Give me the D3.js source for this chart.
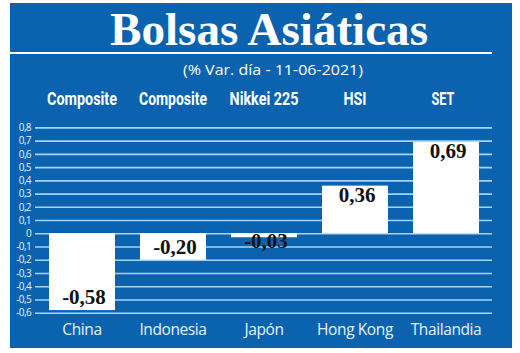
<!DOCTYPE html>
<html>
<head>
<meta charset="utf-8">
<script src="https://cdn.jsdelivr.net/npm/d3@7"></script>
<style>
  body { margin: 0; background: #fff; }
</style>
</head>
<body>
<div id="chart"></div>
<script>
// chart data
const countries = ['China', 'Indonesia', 'Japón', 'Hong Kong', 'Thailandia'];
const indexNames = ['Composite', 'Composite', 'Nikkei 225', 'HSI', 'SET'];
const values = [-0.58, -0.20, -0.03, 0.36, 0.69];
const tickValues = [0.8, 0.7, 0.6, 0.5, 0.4, 0.3, 0.2, 0.1, 0, -0.1, -0.2, -0.3, -0.4, -0.5, -0.6];

const W = 520, H = 353;
const blue = '#0b63b0';
const gridColor = '#a9d3f3';

// comma decimals, plain hyphen for minus
const fmt = (v) => (v === 0 ? '0' : d3.format('.1f')(v).replace('.', ',').replace('−', '-'));
const fmtVal = (v) => d3.format('.2f')(v).replace('.', ',').replace('−', '-');

const svg = d3.select('#chart')
    .append('svg')
    .attr('width', W)
    .attr('height', H);

svg.append('rect')
    .attr('x', 10).attr('y', 3)
    .attr('width', 502).attr('height', 345)
    .attr('fill', blue);

// title block
svg.append('text')
    .attr('x', 269).attr('y', 45)
    .attr('text-anchor', 'middle')
    .attr('font-family', '"Liberation Serif", serif')
    .attr('font-weight', 'bold')
    .attr('font-size', 46)
    .attr('textLength', 318)
    .attr('lengthAdjust', 'spacingAndGlyphs')
    .attr('fill', '#fff')
    .text('Bolsas Asiáticas');

svg.append('rect')
    .attr('x', 10).attr('y', 52)
    .attr('width', 482).attr('height', 2)
    .attr('fill', '#fff');

svg.append('text')
    .attr('x', 273).attr('y', 75)
    .attr('text-anchor', 'middle')
    .attr('font-family', '"Open Sans", sans-serif')
    .attr('font-size', 15)
    .attr('textLength', 180)
    .attr('lengthAdjust', 'spacingAndGlyphs')
    .attr('fill', '#fff')
    .text('(% Var. día - 11-06-2021)');

// scales
const x = d3.scaleBand()
    .domain(countries)
    .range([36.5, 491.5])
    .paddingInner(0.275)
    .paddingOuter(0.1375);

const y = d3.scaleLinear()
    .domain([-0.6, 0.8])
    .range([312.7, 127.4]);

// gridlines
const yAxis = d3.axisLeft(y)
    .tickValues(tickValues)
    .tickSize(-(492 - 35))
    .tickPadding(4)
    .tickFormat(fmt);

const gAxis = svg.append('g')
    .attr('transform', 'translate(35,0)')
    .call(yAxis);
gAxis.select('.domain').remove();
gAxis.selectAll('.tick line')
    .attr('stroke', gridColor)
    .attr('stroke-width', 1.6);
gAxis.selectAll('.tick text')
    .attr('fill', '#e4f2ff')
    .attr('font-family', '"Open Sans", sans-serif')
    .attr('font-size', 10)
    .attr('letter-spacing', -0.6);

// bars
svg.selectAll('rect.bar')
    .data(values)
    .join('rect')
    .attr('class', 'bar')
    .attr('x', (d, i) => x(countries[i]))
    .attr('width', x.bandwidth())
    .attr('y', (d) => y(Math.max(0, d)))
    .attr('height', (d) => Math.abs(y(d) - y(0)))
    .attr('fill', '#fff');

// value labels
svg.selectAll('text.val')
    .data(values)
    .join('text')
    .attr('class', 'val')
    .attr('x', (d, i) => x(countries[i]) + x.bandwidth() / 2 + 2)
    .attr('y', (d) => d >= 0 ? y(d) + 16 : Math.max(y(d) - 6, y(0) + 15))
    .attr('text-anchor', 'middle')
    .attr('font-family', '"Liberation Serif", serif')
    .attr('font-weight', 'bold')
    .attr('font-size', 21)
    .attr('fill', '#111')
    .text((d) => fmtVal(d));

// index names on top (condensed look)
const idxWidth = [70, 68, 69, 23, 23];
svg.selectAll('text.idx')
    .data(indexNames)
    .join('text')
    .attr('class', 'idx')
    .attr('x', (d, i) => x(countries[i]) + x.bandwidth() / 2 + (i === 4 ? -3 : 0))
    .attr('y', 105)
    .attr('text-anchor', 'middle')
    .attr('font-family', 'Roboto, sans-serif')
    .attr('font-weight', 'bold')
    .attr('font-size', 19)
    .attr('textLength', (d, i) => idxWidth[i])
    .attr('lengthAdjust', 'spacingAndGlyphs')
    .attr('fill', '#fff')
    .text((d) => d);

// country names below
svg.selectAll('text.cat')
    .data(countries)
    .join('text')
    .attr('class', 'cat')
    .attr('x', (d) => x(d) + x.bandwidth() / 2)
    .attr('y', 335)
    .attr('text-anchor', 'middle')
    .attr('font-family', '"Open Sans", sans-serif')
    .attr('font-size', 15.5)
    .attr('letter-spacing', -0.4)
    .attr('fill', '#e6f3ff')
    .text((d) => d);
</script>
</body>
</html>
